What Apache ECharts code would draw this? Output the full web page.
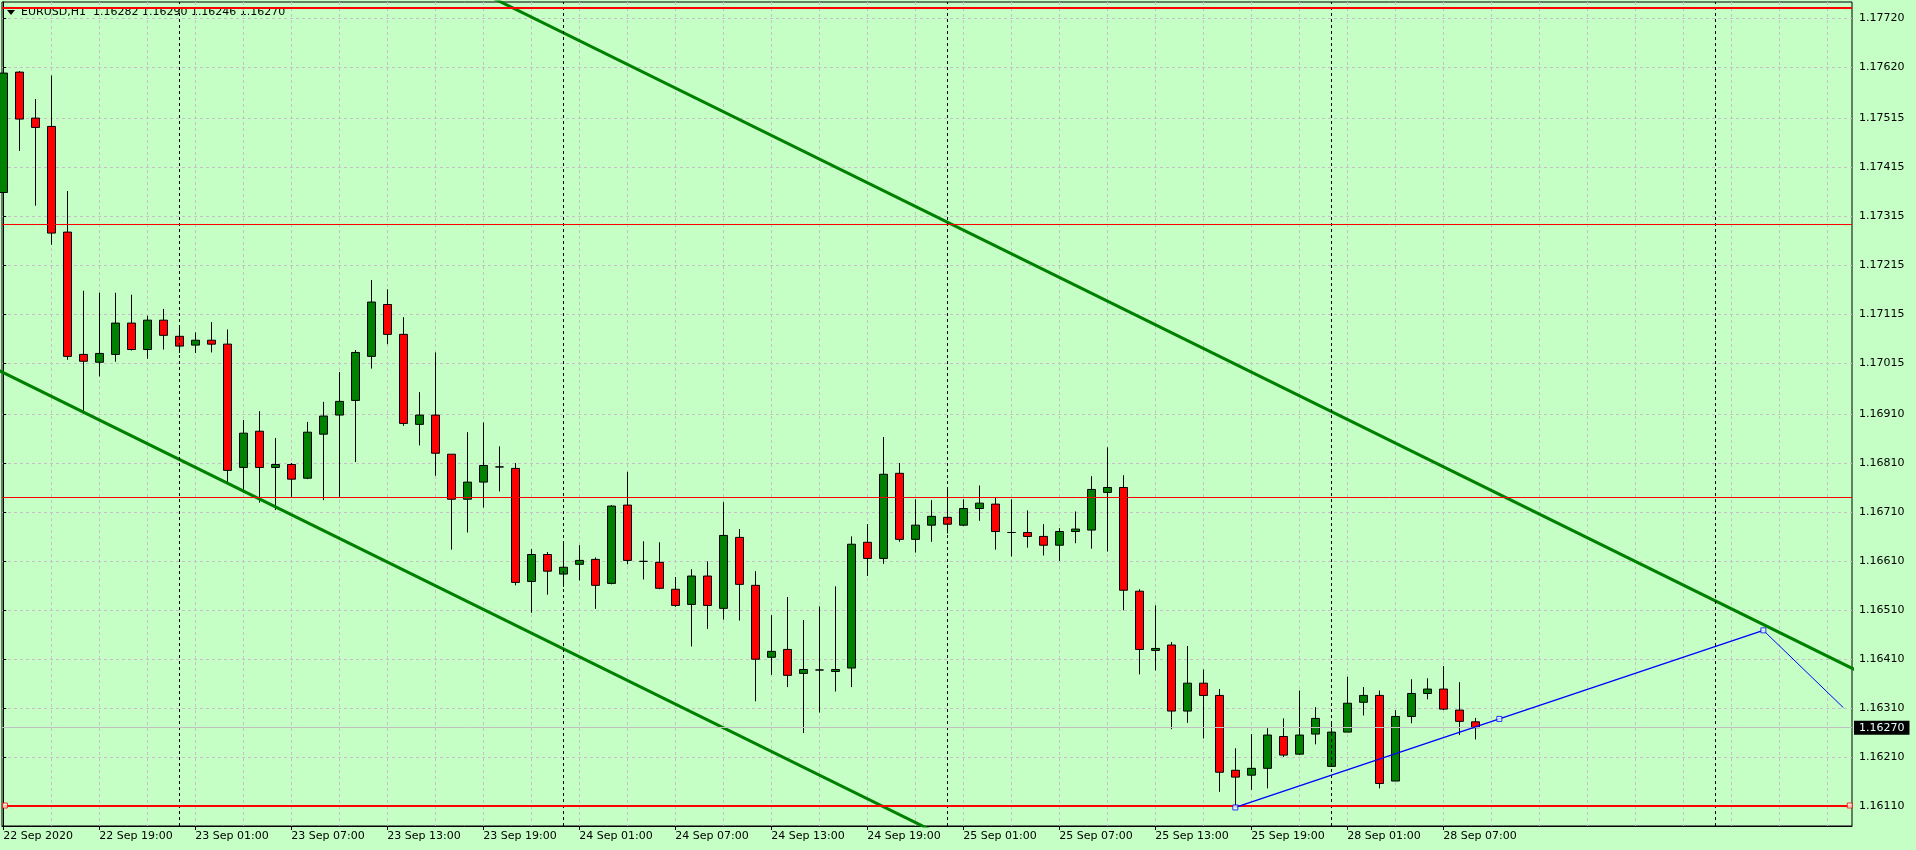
<!DOCTYPE html>
<html>
<head>
<meta charset="utf-8">
<title>EURUSD,H1</title>
<script src="https://cdn.jsdelivr.net/npm/echarts@6/dist/echarts.min.js"></script>
<style>
    html, body { margin: 0; padding: 0; background: #c6ffc6; }
    #chart { width: 1916px; height: 850px; }
</style>
</head>
<body>
<div id="chart"></div>
<script>
const symbolName = 'EURUSD,H1';

// H1 bars, 22 Sep 13:00 .. 28 Sep 09:00
const opens = [
    1.17364, 1.17610, 1.17516, 1.17499, 1.17283, 1.17033, 1.17017, 1.17033, 1.17097, 1.17043,
    1.17103, 1.17070, 1.17052, 1.17062, 1.17054, 1.16802, 1.16876, 1.16802, 1.16808, 1.16780,
    1.16870, 1.16909, 1.16939, 1.17029, 1.17135, 1.17074, 1.16890, 1.16909, 1.16829, 1.16737,
    1.16772, 1.16803, 1.16800, 1.16569, 1.16624, 1.16584, 1.16604, 1.16614, 1.16565, 1.16725,
    1.16610, 1.16608, 1.16553, 1.16522, 1.16580, 1.16514, 1.16659, 1.16561, 1.16414, 1.16430,
    1.16381, 1.16388, 1.16385, 1.16392, 1.16649, 1.16616, 1.16790, 1.16655, 1.16684, 1.16700,
    1.16684, 1.16718, 1.16727, 1.16669, 1.16669, 1.16661, 1.16643, 1.16671, 1.16674, 1.16751,
    1.16761, 1.16549, 1.16428, 1.16439, 1.16304, 1.16361, 1.16336, 1.16183, 1.16173, 1.16187,
    1.16252, 1.16216, 1.16257, 1.16191, 1.16261, 1.16322, 1.16336, 1.16161, 1.16293, 1.16340,
    1.16349, 1.16306, 1.16282
];
const highs = [
    1.17666, 1.17612, 1.17555, 1.17603, 1.17367, 1.17163, 1.17159, 1.17159, 1.17155, 1.17112,
    1.17126, 1.17091, 1.17078, 1.17099, 1.17084, 1.16899, 1.16917, 1.16862, 1.16811, 1.16895,
    1.16936, 1.16997, 1.17042, 1.17185, 1.17166, 1.17109, 1.16956, 1.17037, 1.16829, 1.16874,
    1.16894, 1.16845, 1.16811, 1.16635, 1.16629, 1.16649, 1.16643, 1.16618, 1.16725, 1.16793,
    1.16651, 1.16649, 1.16578, 1.16594, 1.16610, 1.16731, 1.16676, 1.16590, 1.16500, 1.16537,
    1.16490, 1.16518, 1.16559, 1.16661, 1.16686, 1.16864, 1.16811, 1.16737, 1.16735, 1.16761,
    1.16737, 1.16765, 1.16741, 1.16737, 1.16714, 1.16686, 1.16678, 1.16712, 1.16784, 1.16843,
    1.16786, 1.16553, 1.16520, 1.16445, 1.16437, 1.16389, 1.16349, 1.16228, 1.16257, 1.16269,
    1.16289, 1.16346, 1.16312, 1.16281, 1.16374, 1.16353, 1.16346, 1.16306, 1.16369, 1.16371,
    1.16396, 1.16363, 1.16290
];
const lows = [
    1.17363, 1.17449, 1.17337, 1.17257, 1.17022, 1.16911, 1.16988, 1.17018, 1.17041, 1.17024,
    1.17043, 1.17036, 1.17036, 1.17037, 1.16768, 1.16750, 1.16730, 1.16715, 1.16742, 1.16778,
    1.16735, 1.16742, 1.16813, 1.17004, 1.17054, 1.16887, 1.16847, 1.16785, 1.16634, 1.16669,
    1.16720, 1.16753, 1.16561, 1.16505, 1.16542, 1.16558, 1.16571, 1.16513, 1.16563, 1.16604,
    1.16573, 1.16553, 1.16517, 1.16436, 1.16472, 1.16491, 1.16489, 1.16324, 1.16378, 1.16353,
    1.16259, 1.16301, 1.16344, 1.16353, 1.16580, 1.16605, 1.16650, 1.16628, 1.16650, 1.16667,
    1.16682, 1.16693, 1.16634, 1.16620, 1.16638, 1.16622, 1.16611, 1.16647, 1.16636, 1.16630,
    1.16510, 1.16379, 1.16387, 1.16267, 1.16280, 1.16248, 1.16139, 1.16107, 1.16143, 1.16146,
    1.16210, 1.16214, 1.16236, 1.16191, 1.16261, 1.16295, 1.16146, 1.16161, 1.16279, 1.16328,
    1.16306, 1.16255, 1.16246
];
const closes = [
    1.17608, 1.17514, 1.17497, 1.17281, 1.17029, 1.17019, 1.17035, 1.17097, 1.17043, 1.17103,
    1.17072, 1.17050, 1.17062, 1.17054, 1.16796, 1.16872, 1.16802, 1.16808, 1.16778, 1.16874,
    1.16907, 1.16937, 1.17037, 1.17140, 1.17074, 1.16892, 1.16909, 1.16831, 1.16737, 1.16772,
    1.16806, 1.16803, 1.16567, 1.16624, 1.16590, 1.16598, 1.16612, 1.16561, 1.16723, 1.16612,
    1.16610, 1.16555, 1.16520, 1.16580, 1.16520, 1.16663, 1.16563, 1.16410, 1.16426, 1.16377,
    1.16389, 1.16388, 1.16389, 1.16645, 1.16616, 1.16788, 1.16655, 1.16684, 1.16702, 1.16686,
    1.16718, 1.16729, 1.16671, 1.16669, 1.16661, 1.16643, 1.16671, 1.16676, 1.16757, 1.16761,
    1.16551, 1.16430, 1.16432, 1.16304, 1.16361, 1.16336, 1.16179, 1.16169, 1.16187, 1.16255,
    1.16214, 1.16255, 1.16289, 1.16261, 1.16320, 1.16336, 1.16156, 1.16293, 1.16340, 1.16349,
    1.16308, 1.16283, 1.16270
];

// time axis (bar index), labels every 6 bars
const xLabelBars = [0, 6, 12, 18, 24, 30, 36, 42, 48, 54, 60, 66, 72, 78, 84, 90];
const xLabels = [
    '22 Sep 2020', '22 Sep 19:00', '23 Sep 01:00', '23 Sep 07:00', '23 Sep 13:00', '23 Sep 19:00',
    '24 Sep 01:00', '24 Sep 07:00', '24 Sep 13:00', '24 Sep 19:00', '25 Sep 01:00', '25 Sep 07:00',
    '25 Sep 13:00', '25 Sep 19:00', '28 Sep 01:00', '28 Sep 07:00'
];
const gridBars = [0, 3, 6, 9, 12, 15, 18, 21, 24, 27, 30, 33, 36, 39, 42, 45, 48, 51, 54, 57,
    60, 63, 66, 69, 72, 75, 78, 81, 84, 87, 90, 93, 96, 99, 102, 105, 108, 111, 114];
const daySeparators = [11, 35, 59, 83, 107];

const yTicks = [1.16110, 1.16210, 1.16310, 1.16410, 1.16510, 1.16610, 1.16710, 1.16810, 1.16910,
    1.17015, 1.17115, 1.17215, 1.17315, 1.17415, 1.17515, 1.17620, 1.17720];

// drawn objects, [bar index, price]
const upperChannel = [[30, 1.17771], [116, 1.16384]];
const lowerChannel = [[-1, 1.17012], [60, 1.16028]];
const bluePath = [[77, 1.16107], [110, 1.16469]];
const blueTail = [[110, 1.16469], [115, 1.16311]];
const redLevelsThick = [1.17742, 1.16111];
const redLevelsThin = [1.17300, 1.16741];
const redHandles = [[0.1, 1.16111], [115.4, 1.16111]];

const xMin = -0.08;
const xMax = 115.54;
const yMin = 1.160691;
const yMax = 1.177533;

const FONT = 'DejaVu Sans';
const GRID_COLOR = '#c8c0c8';

const last = opens.length - 1;
const bid = closes[last];
const header = `${symbolName}  ${opens[last].toFixed(5)} ${highs[last].toFixed(5)} ${lows[last].toFixed(5)} ${closes[last].toFixed(5)}`;

const candleData = opens.map((o, i) => [i, o, closes[i], lows[i], highs[i]]);
const blueHandles = [
    bluePath[0],
    [(bluePath[0][0] + bluePath[1][0]) / 2, (bluePath[0][1] + bluePath[1][1]) / 2],
    bluePath[1]
];

const markLines = [];
daySeparators.forEach((b) => {
    markLines.push({ xAxis: b, lineStyle: { color: '#000', width: 1, type: [3, 3] } });
});
markLines.push({
    yAxis: bid,
    lineStyle: { color: '#c0c0c0', width: 1, type: 'solid' },
    label: {
        show: true,
        position: 'end',
        distance: 2,
        formatter: bid.toFixed(5),
        backgroundColor: '#000',
        color: '#e8ffff',
        padding: [2, 5, 1, 5],
        fontFamily: FONT,
        fontSize: 11
    }
});
redLevelsThin.forEach((p) => {
    markLines.push({ yAxis: p, lineStyle: { color: '#ff0000', width: 1, type: 'solid' } });
});
redLevelsThick.forEach((p) => {
    markLines.push({ yAxis: p, lineStyle: { color: '#ff0000', width: 2, type: 'solid' } });
});

const chart = echarts.init(document.getElementById('chart'));

const option = {
    animation: false,
    backgroundColor: '#c6ffc6',
    textStyle: { fontFamily: FONT },
    grid: {
        left: 2,
        right: 64,
        top: 2,
        bottom: 24,
        show: true,
        borderColor: '#000',
        borderWidth: 1
    },
    graphic: [
        {
            type: 'polygon',
            shape: { points: [[7, 10], [15, 10], [11, 15]] },
            style: { fill: '#000' }
        },
        {
            type: 'text',
            left: 21,
            top: 7,
            style: { text: header, font: `11px "${FONT}"`, fill: '#000' }
        }
    ],
    xAxis: [
        {
            type: 'value',
            position: 'bottom',
            min: xMin,
            max: xMax,
            axisLine: { show: true, lineStyle: { color: '#000', width: 1 } },
            axisTick: { show: true, customValues: xLabelBars, length: 4, lineStyle: { color: '#000' } },
            axisLabel: {
                customValues: xLabelBars,
                align: 'left',
                margin: 5,
                fontFamily: FONT,
                fontSize: 11,
                color: '#000',
                formatter: (v) => xLabels[xLabelBars.indexOf(Math.round(v))] || ''
            },
            splitLine: { show: false }
        },
        {
            type: 'value',
            position: 'top',
            min: xMin,
            max: xMax,
            axisLine: { show: false },
            axisTick: { show: false, customValues: gridBars },
            axisLabel: { show: false },
            splitLine: { show: true, lineStyle: { color: GRID_COLOR, width: 1, type: [3, 3] } }
        }
    ],
    yAxis: {
        type: 'value',
        position: 'right',
        min: yMin,
        max: yMax,
        axisLine: { show: true, lineStyle: { color: '#000', width: 1 } },
        axisTick: { show: true, customValues: yTicks, length: 3, lineStyle: { color: '#000' } },
        axisLabel: {
            customValues: yTicks,
            margin: 7,
            fontFamily: FONT,
            fontSize: 11,
            color: '#000',
            formatter: (v) => v.toFixed(5)
        },
        splitLine: { show: true, lineStyle: { color: GRID_COLOR, width: 1, type: [3, 3] } }
    },
    series: [
        {
            name: symbolName,
            type: 'candlestick',
            data: candleData,
            encode: { x: 0, y: [1, 2, 3, 4] },
            barWidth: 9,
            clip: false,
            silent: true,
            z: 2,
            itemStyle: {
                color: '#008000',
                color0: '#ff0000',
                borderColor: '#000',
                borderColor0: '#000',
                borderWidth: 1
            },
            markLine: {
                silent: true,
                symbol: 'none',
                animation: false,
                precision: 5,
                label: { show: false },
                data: markLines
            }
        },
        {
            name: 'upper channel',
            type: 'line',
            data: upperChannel,
            symbol: 'none',
            silent: true,
            z: 4,
            lineStyle: { color: '#008000', width: 3 }
        },
        {
            name: 'lower channel',
            type: 'line',
            data: lowerChannel,
            symbol: 'none',
            silent: true,
            z: 4,
            lineStyle: { color: '#008000', width: 3 }
        },
        {
            name: 'blue path',
            type: 'line',
            data: bluePath,
            symbol: 'none',
            silent: true,
            z: 5,
            lineStyle: { color: '#0000ff', width: 1.4 }
        },
        {
            name: 'blue tail',
            type: 'line',
            data: blueTail,
            symbol: 'none',
            silent: true,
            z: 5,
            lineStyle: { color: '#0000ff', width: 1 }
        },
        {
            name: 'blue handles',
            type: 'scatter',
            data: blueHandles,
            symbol: 'rect',
            symbolSize: 5,
            clip: false,
            silent: true,
            z: 6,
            itemStyle: { color: '#eaffea', borderColor: '#0000ff', borderWidth: 1 }
        },
        {
            name: 'red handles',
            type: 'scatter',
            data: redHandles,
            symbol: 'rect',
            symbolSize: 5,
            clip: false,
            silent: true,
            z: 6,
            itemStyle: { color: '#eaffea', borderColor: '#ff0000', borderWidth: 1 }
        }
    ]
};

chart.setOption(option);
window.addEventListener('resize', () => chart.resize());
</script>
</body>
</html>
